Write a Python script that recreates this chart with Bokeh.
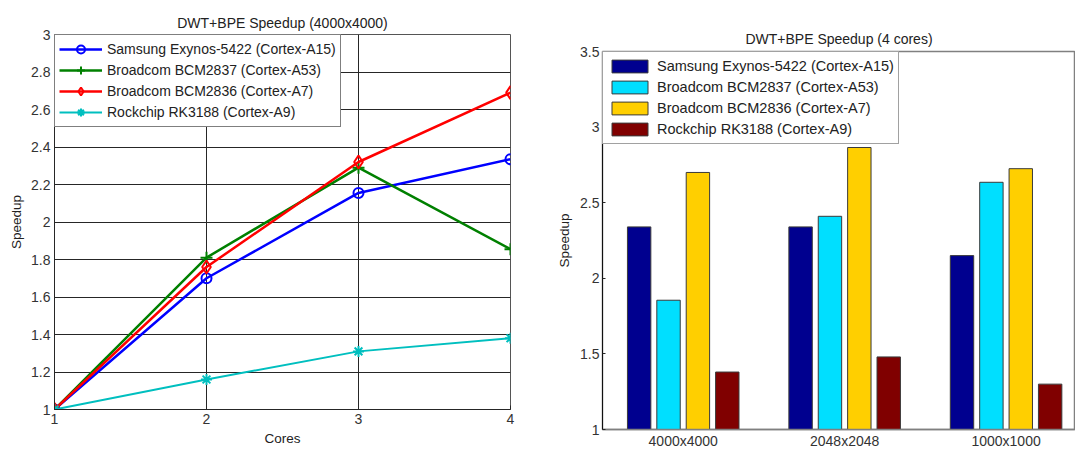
from bokeh.plotting import figure
from bokeh.layouts import row
from bokeh.models import Legend, LegendItem, CustomJSTickFormatter, FixedTicker
from bokeh.embed import file_html
from bokeh.resources import INLINE

FONT = "Liberation Sans"

# ---------------- data: left chart ----------------
cores = [1, 2, 3, 4]
samsung_line = [1.0, 1.70, 2.155, 2.335]
bcm2837_line = [1.0, 1.81, 2.29, 1.855]
bcm2836_line = [1.0, 1.76, 2.32, 2.69]
rk3188_line = [1.0, 1.16, 1.31, 1.38]
left_yticks = [1, 1.2, 1.4, 1.6, 1.8, 2, 2.2, 2.4, 2.6, 2.8, 3]

# ---------------- data: right chart ----------------
sizes = ["4000x4000", "2048x2048", "1000x1000"]
samsung_bar = [2.34, 2.34, 2.15]
bcm2837_bar = [1.855, 2.41, 2.635]
bcm2836_bar = [2.70, 2.865, 2.725]
rk3188_bar = [1.38, 1.48, 1.30]
right_yticks = [1, 1.5, 2, 2.5, 3, 3.5]

names = ["Samsung Exynos-5422 (Cortex-A15)", "Broadcom BCM2837 (Cortex-A53)",
         "Broadcom BCM2836 (Cortex-A7)", "Rockchip RK3188 (Cortex-A9)"]

fmt = CustomJSTickFormatter(code="return String(Math.round(tick*10)/10)")

# ================= left figure =================
p1 = figure(width=540, height=451, x_range=(1, 4), y_range=(1, 3),
            output_backend="svg", toolbar_location=None, frame_align=False,
            min_border_left=54, min_border_right=30, min_border_top=34, min_border_bottom=42,
            title="DWT+BPE Speedup (4000x4000)")
p1.title.text_font = FONT
p1.title.text_font_size = "14px"
p1.title.text_font_style = "normal"
p1.title.text_color = "#222222"
p1.title.align = "center"
p1.title.standoff = 8

line_colors = ["#0000FF", "#008000", "#FF0000", "#00BFBF"]
line_series = [samsung_line, bcm2837_line, bcm2836_line, rk3188_line]
markers = ["circle", "cross", "diamond", "asterisk"]
msizes = [10, 12, 13, 11]
widths = [2.5, 2.5, 2.5, 2]
items = []
for name, ys, c, m, ms, w in zip(names, line_series, line_colors, markers, msizes, widths):
    lr = p1.line(cores, ys, line_color=c, line_width=w)
    sr = p1.scatter(cores, ys, marker=m, size=ms, line_color=c, fill_color=None, line_width=2)
    items.append(LegendItem(label=name, renderers=[lr, sr]))

leg1 = Legend(items=items, location="top_left", margin=0, padding=4, spacing=1,
              glyph_width=43, glyph_height=20, label_height=20, label_standoff=5,
              label_text_font=FONT, label_text_font_size="14px", label_text_color="#222222",
              border_line_color="#000000", border_line_width=1,
              background_fill_color="white", background_fill_alpha=1)
p1.add_layout(leg1, "center")

p1.xaxis.ticker = FixedTicker(ticks=cores)
p1.yaxis.ticker = FixedTicker(ticks=left_yticks)
p1.yaxis.formatter = fmt
p1.xaxis.axis_label = "Cores"
p1.yaxis.axis_label = "Speedup"
for ax in [p1.xaxis[0], p1.yaxis[0]]:
    ax.axis_label_text_font = FONT
    ax.axis_label_text_font_size = "13.5px"
    ax.axis_label_text_font_style = "normal"
    ax.axis_label_text_color = "#222222"
    ax.axis_label_standoff = 4
    ax.major_label_text_font = FONT
    ax.major_label_text_font_size = "14px"
    ax.major_label_text_color = "#333333"
    ax.major_label_standoff = 4
    ax.major_tick_in = 4
    ax.major_tick_out = 0
    ax.minor_tick_line_color = None
    ax.axis_line_color = "#262626"
    ax.major_tick_line_color = "#262626"
p1.xgrid.grid_line_color = "#262626"
p1.ygrid.grid_line_color = "#262626"
p1.xgrid.grid_line_alpha = 1
p1.ygrid.grid_line_alpha = 1
p1.outline_line_color = "#555555"
p1.outline_line_width = 1

# ================= right figure =================
p2 = figure(width=535, height=451, x_range=(0.5, 3.43), y_range=(1, 3.5),
            output_backend="svg", toolbar_location=None, frame_align=False,
            min_border_left=62, min_border_right=0, min_border_top=51, min_border_bottom=19,
            title="DWT+BPE Speedup (4 cores)")
p2.title.text_font = FONT
p2.title.text_font_size = "14px"
p2.title.text_font_style = "normal"
p2.title.text_color = "#222222"
p2.title.align = "center"
p2.title.standoff = 10

bar_colors = ["#00008F", "#00DFFF", "#FFCF00", "#800000"]
bar_series = [samsung_bar, bcm2837_bar, bcm2836_bar, rk3188_bar]
offsets = [-0.273, -0.091, 0.091, 0.273]
group_x = [1, 2, 3]
items2 = []
for name, vals, c, off in zip(names, bar_series, bar_colors, offsets):
    xs = [g + off for g in group_x]
    r = p2.vbar(x=xs, top=vals, bottom=1, width=0.145, fill_color=c,
                line_color="#3a3a3a", line_width=1)
    items2.append(LegendItem(label=name, renderers=[r]))

leg2 = Legend(items=items2, location="top_left", margin=0, padding=4, spacing=1,
              glyph_width=45, glyph_height=16, label_height=20, label_standoff=5,
              label_text_font=FONT, label_text_font_size="14.5px", label_text_color="#222222",
              border_line_color="#444444", border_line_width=1.5,
              background_fill_color="white", background_fill_alpha=1)
p2.add_layout(leg2, "center")

p2.xaxis.ticker = FixedTicker(ticks=group_x)
p2.xaxis.major_label_overrides = {1: sizes[0], 2: sizes[1], 3: sizes[2]}
p2.yaxis.ticker = FixedTicker(ticks=right_yticks)
p2.yaxis.formatter = fmt
p2.yaxis.axis_label = "Speedup"
for ax in [p2.xaxis[0], p2.yaxis[0]]:
    ax.axis_label_text_font = FONT
    ax.axis_label_text_font_size = "13.5px"
    ax.axis_label_text_font_style = "normal"
    ax.axis_label_text_color = "#222222"
    ax.axis_label_standoff = 5
    ax.major_label_text_font = FONT
    ax.major_label_text_font_size = "14px"
    ax.major_label_text_color = "#333333"
    ax.major_label_standoff = 3
    ax.major_tick_in = 3
    ax.major_tick_out = 0
    ax.minor_tick_line_color = None
    ax.major_tick_line_color = "#262626"
p2.yaxis.axis_line_color = "#111111"
p2.xaxis.axis_line_color = "#808080"
p2.xaxis.axis_line_width = 1.5
p2.xaxis.major_tick_line_color = None
p2.xgrid.grid_line_color = None
p2.ygrid.grid_line_color = None
p2.outline_line_color = "#808080"
p2.outline_line_width = 1.5

layout = row(p1, p2)
open("out.html", "w").write(file_html(layout, INLINE))
